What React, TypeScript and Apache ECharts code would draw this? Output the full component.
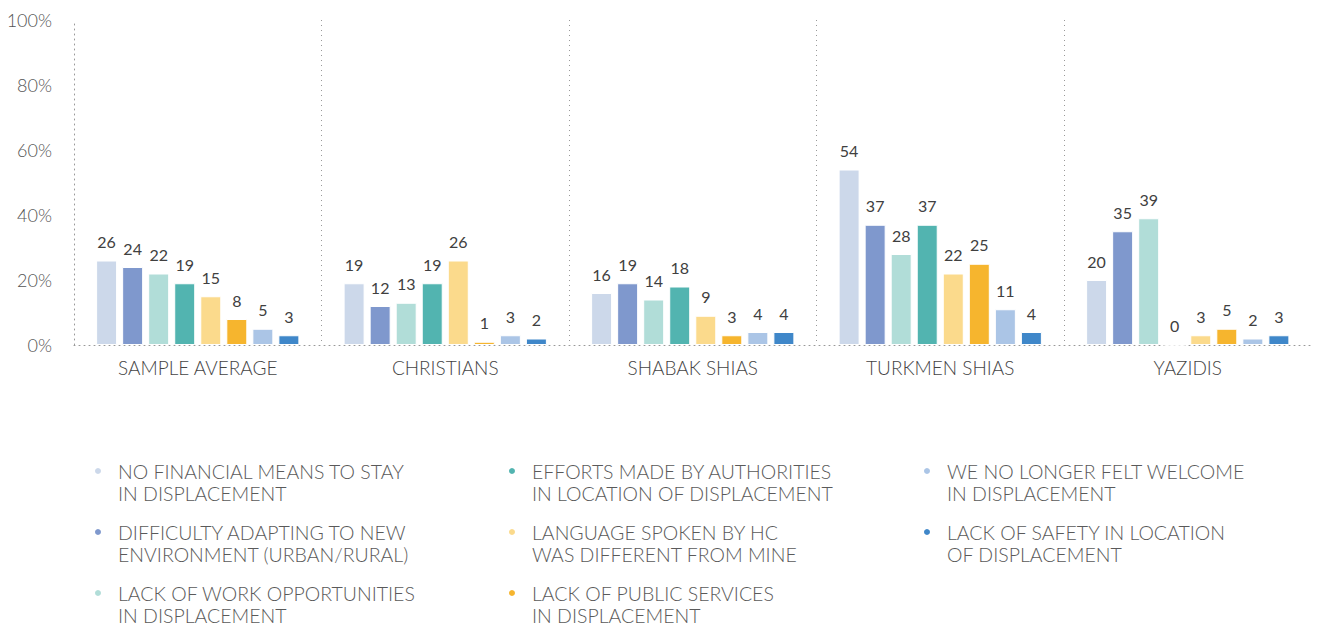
import React, { useEffect, useRef } from "react";
import * as echarts from "echarts";

const categories = ["SAMPLE AVERAGE", "CHRISTIANS", "SHABAK SHIAS", "TURKMEN SHIAS", "YAZIDIS"];

const seriesNames = [
  "NO FINANCIAL MEANS TO STAY\nIN DISPLACEMENT",
  "DIFFICULTY ADAPTING TO NEW\nENVIRONMENT (URBAN/RURAL)",
  "LACK OF WORK OPPORTUNITIES\nIN DISPLACEMENT",
  "EFFORTS MADE BY AUTHORITIES\nIN LOCATION OF DISPLACEMENT",
  "LANGUAGE SPOKEN BY HC\nWAS DIFFERENT FROM MINE",
  "LACK OF PUBLIC SERVICES\nIN DISPLACEMENT",
  "WE NO LONGER FELT WELCOME\nIN DISPLACEMENT",
  "LACK OF SAFETY IN LOCATION\nOF DISPLACEMENT",
];

const colors = ["#CCD8EA", "#7F98CD", "#B1DDD8", "#52B4B0", "#FBDA8C", "#F6B52E", "#ABC5E6", "#3F87C9"];

const noFinancialMeans = [26, 19, 16, 54, 20];
const difficultyAdapting = [24, 12, 19, 37, 35];
const lackOfWork = [22, 13, 14, 28, 39];
const effortsByAuthorities = [19, 19, 18, 37, 0];
const languageDifferent = [15, 26, 9, 22, 3];
const lackOfServices = [8, 1, 3, 25, 5];
const noLongerWelcome = [5, 3, 4, 11, 2];
const lackOfSafety = [3, 2, 4, 4, 3];

const seriesValues = [
  noFinancialMeans,
  difficultyAdapting,
  lackOfWork,
  effortsByAuthorities,
  languageDifferent,
  lackOfServices,
  noLongerWelcome,
  lackOfSafety,
];

const yTicks = [0, 20, 40, 60, 80, 100];

const FONT = "Lato, 'Open Sans', sans-serif";

export default function App() {
  const ref = useRef<HTMLDivElement>(null);
  useEffect(() => {
    if (!ref.current) return;
    const chart = echarts.init(ref.current, undefined, { renderer: "svg" });

    const LH = 22;
    const legendCols = [93, 507, 922];
    const legendRows = [471, 532, 593];
    const legends = seriesNames.map((name, i) => {
      const col = Math.floor(i / 3);
      const row = i % 3;
      return {
        show: true,
        selectedMode: false,
        data: [name],
        left: legendCols[col],
        top: legendRows[row] - LH * 1.5,
        padding: 0,
        icon: "circle",
        itemWidth: 30,
        itemHeight: 8,
        formatter: (n: string) => "\n" + n,
        textStyle: {
          fontFamily: FONT,
          fontWeight: 300,
          fontSize: 19.5,
          color: "#5a5a5a",
          lineHeight: LH,
        },
      };
    });

    chart.setOption({
      animation: false,
      textStyle: { fontFamily: FONT },
      grid: { left: 74, right: 7.5, top: 20, bottom: 281, containLabel: false },
      legend: legends,
      xAxis: {
        type: "category",
        data: categories,
        axisLine: { show: true, lineStyle: { color: "#999", type: [1, 4], width: 1 } },
        axisTick: { show: false },
        axisLabel: { fontFamily: FONT, fontWeight: 300, fontSize: 19, color: "#444", margin: 13 },
        splitLine: {
          show: true,
          showMinLine: false,
          showMaxLine: false,
          lineStyle: { color: "#999", type: [1, 4], width: 1 },
        },
      },
      yAxis: {
        type: "value",
        min: yTicks[0],
        max: yTicks[yTicks.length - 1],
        interval: 20,
        axisLine: { show: true, lineStyle: { color: "#999", type: [1, 4], width: 1 } },
        axisTick: { show: false },
        splitLine: { show: false },
        axisLabel: {
          fontFamily: FONT,
          fontWeight: 300,
          fontSize: 18,
          color: "#555",
          margin: 22,
          formatter: (v: number) => v + "%",
        },
      },
      series: seriesValues.map((vals, i) => ({
        name: seriesNames[i],
        type: "bar",
        data: vals,
        barWidth: 21,
        barGap: "24%",
        itemStyle: { color: colors[i], borderColor: "#fff", borderWidth: 1 },
        label: {
          show: true,
          position: "top",
          distance: 11,
          fontFamily: FONT,
          fontSize: 16,
          color: "#404040",
        },
      })),
    });
    return () => chart.dispose();
  }, []);
  return (
    <div
      ref={ref}
      style={{ position: "absolute", left: 0, top: 0, width: 1319, height: 626 }}
    />
  );
}
